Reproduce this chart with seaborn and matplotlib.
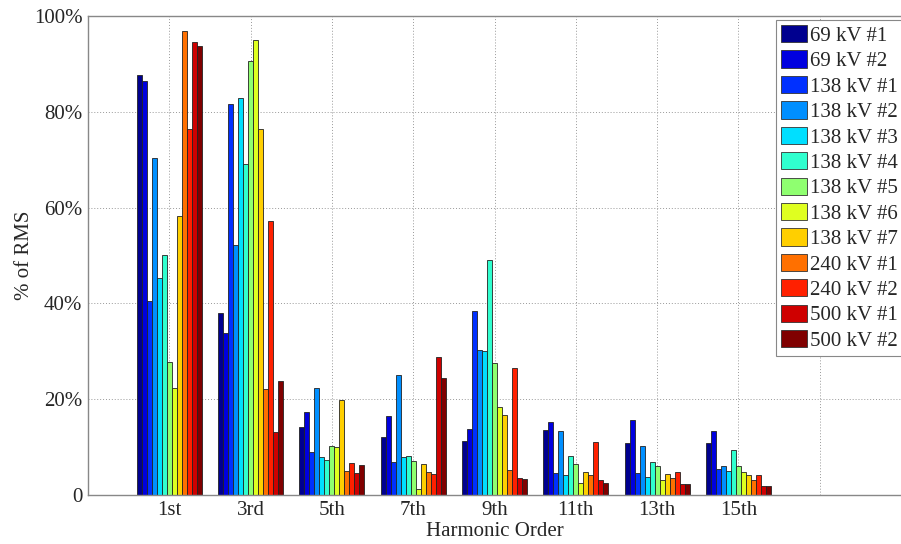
import matplotlib
matplotlib.use("Agg")
import matplotlib.pyplot as plt
import numpy as np
import pandas as pd
import seaborn as sns

# Harmonic orders (x categories)
harmonics = ["1st", "3rd", "5th", "7th", "9th", "11th", "13th", "15th"]

# Measurement sites (hue levels)
sites = ["69 kV #1", "69 kV #2", "138 kV #1", "138 kV #2", "138 kV #3",
         "138 kV #4", "138 kV #5", "138 kV #6", "138 kV #7",
         "240 kV #1", "240 kV #2", "500 kV #1", "500 kV #2"]

# Harmonic content as % of RMS, one list per site (ordered by harmonic)
kv69_1 = [87.7, 37.9, 14.1, 12.1, 11.2, 13.5, 10.9, 10.9]
kv69_2 = [86.4, 33.9, 17.4, 16.5, 13.7, 15.2, 15.6, 13.3]
kv138_1 = [40.6, 81.6, 9.0, 6.8, 38.4, 4.6, 4.6, 5.5]
kv138_2 = [70.3, 52.1, 22.3, 25.1, 30.3, 13.3, 10.2, 6.1]
kv138_3 = [45.2, 82.9, 8.0, 8.0, 30.0, 4.2, 3.7, 5.0]
kv138_4 = [50.1, 69.1, 7.2, 8.2, 49.0, 8.1, 6.8, 9.3]
kv138_5 = [27.7, 90.6, 10.3, 7.0, 27.6, 6.4, 6.0, 6.1]
kv138_6 = [22.4, 95.0, 10.0, 1.2, 18.3, 2.5, 3.1, 4.7]
kv138_7 = [58.3, 76.4, 19.9, 6.4, 16.8, 4.8, 4.3, 4.2]
kv240_1 = [96.9, 22.1, 5.1, 4.9, 5.2, 4.1, 3.5, 3.2]
kv240_2 = [76.5, 57.1, 6.6, 4.4, 26.6, 11.0, 4.8, 4.2]
kv500_1 = [94.6, 13.1, 4.5, 28.9, 3.5, 3.1, 2.2, 1.9]
kv500_2 = [93.7, 23.7, 6.3, 24.4, 3.3, 2.6, 2.2, 1.8]

series = [kv69_1, kv69_2, kv138_1, kv138_2, kv138_3, kv138_4, kv138_5,
          kv138_6, kv138_7, kv240_1, kv240_2, kv500_1, kv500_2]

yticks = [0, 20, 40, 60, 80, 100]
ytick_labels = ["0", "20%", "40%", "60%", "80%", "100%"]

rows = []
for site, vals in zip(sites, series):
    for h, v in zip(harmonics, vals):
        rows.append({"Harmonic": h, "Site": site, "Value": v})
df = pd.DataFrame(rows)


def classic_jet(n_colors, size=64):
    """Classic 64-step jet map, sampled the way indexed bar groups are."""
    n = size // 4
    u = np.concatenate([np.arange(1, n + 1) / n, np.ones(n - 1),
                        np.arange(n, 0, -1) / n])
    g = n // 2 + np.arange(1, len(u) + 1)
    r, b = g + n, g - n
    cmap = np.zeros((size, 3))
    for ch, idx in ((0, r), (1, g), (2, b)):
        ok = (idx >= 1) & (idx <= size)
        cmap[idx[ok] - 1, ch] = u[ok]
    k = np.arange(n_colors)
    rows_idx = np.minimum((k * size) // (n_colors - 1), size - 1)
    return [tuple(cmap[i]) for i in rows_idx]


palette = classic_jet(len(sites))

sns.set_theme(style="white")
plt.rcParams["font.family"] = ["Liberation Serif", "DejaVu Serif"]

fig = plt.figure(figsize=(9.01, 5.44), dpi=100)
ax = fig.add_axes([0.0977, 0.0901, 0.9023, 0.8805])

sns.barplot(data=df, x="Harmonic", y="Value", hue="Site", order=harmonics,
            hue_order=sites, palette=palette, width=0.8, gap=0,
            edgecolor="#222222", linewidth=0.6, saturation=1, ax=ax,
            zorder=2)

ax.set_xlim(-1, 9)
ax.set_ylim(0, 100)
ax.set_xticks(range(len(harmonics) + 1))
ax.set_xticklabels(harmonics + [""], fontsize=15)
ax.set_yticks(yticks)
ax.set_yticklabels(ytick_labels, fontsize=15)
ax.set_xlabel("Harmonic Order", fontsize=15, labelpad=1.5)
ax.set_ylabel("% of RMS", fontsize=15, labelpad=0)

ax.grid(True, linestyle=(0, (1, 2)), color="#999999", linewidth=0.7, zorder=0)
ax.set_axisbelow(True)
ax.tick_params(direction="in", length=4, color="#777777", pad=4)
for side in ["left", "top", "bottom"]:
    ax.spines[side].set_color("#888888")
    ax.spines[side].set_linewidth(1.0)
ax.spines["right"].set_visible(False)

leg = ax.legend(loc="upper left", bbox_to_anchor=(0.846, 0.992), fontsize=15,
                frameon=True, fancybox=False, framealpha=1,
                edgecolor="#888888", handlelength=1.25, handleheight=0.9,
                handletextpad=0.15, labelspacing=0.22, borderpad=0.25,
                borderaxespad=0.0)
leg.get_frame().set_linewidth(0.8)
for h in leg.legend_handles:
    h.set_edgecolor("#333333")
    h.set_linewidth(0.6)

fig.savefig("out.png", dpi=100)
